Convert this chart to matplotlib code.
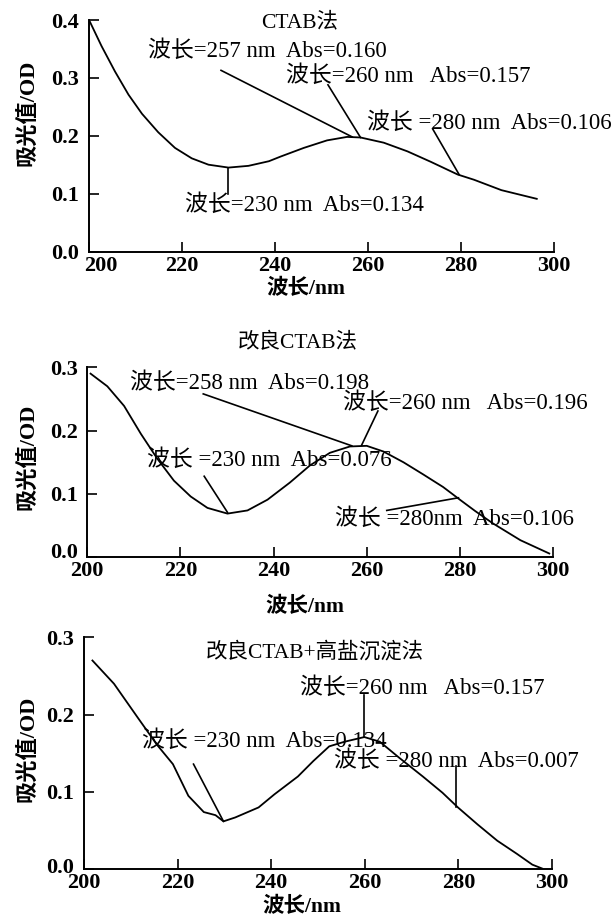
import matplotlib
matplotlib.use("Agg")
import matplotlib.pyplot as plt
from matplotlib.transforms import ScaledTranslation

plt.rcParams['font.family'] = ['Liberation Serif', 'Noto Sans CJK SC']
plt.rcParams['axes.unicode_minus'] = False

# ---------------- data ----------------
titles = ["CTAB法", "改良CTAB法", "改良CTAB+高盐沉淀法"]
xlabel = "波长/nm"
ylabel = "吸光值/OD"
xticks = [200, 220, 240, 260, 280, 300]
yticks1 = [0.0, 0.1, 0.2, 0.3, 0.4]
yticks23 = [0.0, 0.1, 0.2, 0.3]

x1 = [200.3, 202.8, 205.7, 208.6, 211.5, 215, 218.6, 222.2, 225.8, 230.1, 234.4,
      238.8, 241.3, 246.3, 251.3, 255.6, 258.5, 263.5, 268.6, 273.6, 279.4, 282.9,
      288.8, 296.4]
y1 = [0.397, 0.355, 0.311, 0.271, 0.238, 0.206, 0.179, 0.161, 0.150, 0.145, 0.148,
      0.156, 0.164, 0.179, 0.192, 0.198, 0.197, 0.188, 0.173, 0.155, 0.133, 0.124,
      0.106, 0.091]

x2 = [200.7, 204.3, 207.9, 211.5, 215, 218.6, 222.2, 225.8, 230.1, 234.4, 238.7,
      243.5, 247.8, 252.1, 256.4, 260, 263.6, 267.9, 272.1, 276.4, 280, 283.3,
      287, 293, 299.2]
y2 = [0.290, 0.270, 0.239, 0.195, 0.156, 0.121, 0.096, 0.078, 0.069, 0.074, 0.091,
      0.118, 0.145, 0.165, 0.175, 0.176, 0.167, 0.150, 0.131, 0.111, 0.091, 0.073,
      0.054, 0.027, 0.006]

x3 = [201.8, 206.4, 211.5, 215.6, 219, 222.3, 225.6, 228.1, 229.8, 232.3, 237.3,
      240.7, 245.7, 249, 252.4, 255.7, 259.9, 263.2, 267.4, 272.4, 276.6, 279.9,
      284.1, 288.3, 292.5, 295.8, 297.9]
y3 = [0.270, 0.240, 0.196, 0.161, 0.136, 0.095, 0.074, 0.070, 0.062, 0.067, 0.080,
      0.097, 0.120, 0.140, 0.159, 0.165, 0.171, 0.165, 0.144, 0.120, 0.099, 0.080,
      0.058, 0.037, 0.020, 0.006, 0.001]

# annotations: (text, text_x, text_y, line_x0, line_y0, line_x1, line_y1)
ann1 = [
    ("波长=257 nm  Abs=0.160", 212.9, 0.346, 228.5, 0.313, 256.7, 0.198),
    ("波长=260 nm   Abs=0.157", 242.4, 0.303, 251.5, 0.288, 258.5, 0.197),
    ("波长 =280 nm  Abs=0.106", 259.8, 0.222, 274.0, 0.212, 279.7, 0.133),
    ("波长=230 nm  Abs=0.134", 220.7, 0.081, 230.0, 0.145, 230.0, 0.100),
]
ann2 = [
    ("波长=258 nm  Abs=0.198", 209.1, 0.275, 224.9, 0.258, 256.8, 0.176),
    ("波长=260 nm   Abs=0.196", 254.8, 0.243, 262.4, 0.231, 258.9, 0.177),
    ("波长 =230 nm  Abs=0.076", 212.8, 0.153, 225.1, 0.128, 230.1, 0.071),
    ("波长 =280nm  Abs=0.106", 253.1, 0.060, 264.3, 0.074, 279.7, 0.094),
]
ann3 = [
    ("波长=260 nm   Abs=0.157", 246.1, 0.234, 259.9, 0.226, 259.9, 0.171),
    ("波长 =230 nm  Abs=0.134", 212.5, 0.166, 223.4, 0.136, 229.8, 0.062),
    ("波长 =280 nm  Abs=0.007", 253.4, 0.140, 279.5, 0.134, 279.5, 0.080),
]

# ---------------- figure ----------------
W, H = 615, 916
fig = plt.figure(figsize=(W / 100, H / 100), dpi=100)

def px_axes(left, right, top, bottom):
    return fig.add_axes([left / W, 1 - bottom / H, (right - left) / W, (bottom - top) / H])

panels = [
    dict(ax=px_axes(88.5, 553.5, 20, 251.5), x=x1, y=y1, ylim=0.4, yt=yticks1, ann=ann1,
         title=(245.5, 0.395), xl=(0.467, -0.161), yl=(-0.130, 0.60),
         shift_x200=12, shift_y0=0),
    dict(ax=px_axes(87.3, 553, 367.3, 557.3), x=x2, y=y2, ylim=0.3, yt=yticks23, ann=ann2,
         title=(245.1, 0.338), xl=(0.468, -0.26), yl=(-0.128, 0.53),
         shift_x200=0, shift_y0=7),
    dict(ax=px_axes(84, 552, 637.3, 869.3), x=x3, y=y3, ylim=0.3, yt=yticks23, ann=ann3,
         title=(249.4, 0.281), xl=(0.465, -0.161), yl=(-0.12, 0.52),
         shift_x200=0, shift_y0=4),
]

lw = 1.3
for i, p in enumerate(panels):
    ax = p['ax']
    ax.plot(p['x'], p['y'], color='black', lw=lw, solid_joinstyle='round')
    ax.set_xlim(200, 300)
    ax.set_ylim(0, p['ylim'])
    ax.set_xticks(xticks)
    ax.set_yticks(p['yt'])
    ax.set_xticklabels([str(t) for t in xticks])
    ax.set_yticklabels([f"{t:.1f}" for t in p['yt']])
    for s in ['top', 'right']:
        ax.spines[s].set_visible(False)
    for s in ['left', 'bottom']:
        ax.spines[s].set_linewidth(1.4)
    ax.tick_params(direction='in', length=7.5, width=1.2, labelsize=16)
    ax.tick_params(axis='y', pad=7)
    ax.tick_params(axis='x', pad=3)
    xl = ax.get_xticklabels()
    yl = ax.get_yticklabels()
    for lab in xl + yl:
        lab.set_fontweight('bold')
    if p['shift_x200']:
        xl[0].set_transform(xl[0].get_transform() +
                            ScaledTranslation(p['shift_x200'] / 100, 0, fig.dpi_scale_trans))
    if p['shift_y0']:
        yl[0].set_transform(yl[0].get_transform() +
                            ScaledTranslation(0, p['shift_y0'] / 100, fig.dpi_scale_trans))
    ax.text(p['title'][0], p['title'][1], titles[i], ha='center', va='center',
            fontsize=15.5, clip_on=False)
    ax.text(p['xl'][0], p['xl'][1], xlabel, transform=ax.transAxes, ha='center',
            va='center', fontsize=15.5, fontweight='bold')
    ax.text(p['yl'][0], p['yl'][1], ylabel, transform=ax.transAxes, ha='center',
            va='center', rotation=90, fontsize=16, fontweight='bold')
    for (t, tx, ty, lx0, ly0, lx1, ly1) in p['ann']:
        ax.text(tx, ty, t, ha='left', va='center', fontsize=16.5, clip_on=False)
        ax.plot([lx0, lx1], [ly0, ly1], color='black', lw=1.2, clip_on=False)
    ax.patch.set_visible(False)

fig.savefig("out.png", dpi=100)
